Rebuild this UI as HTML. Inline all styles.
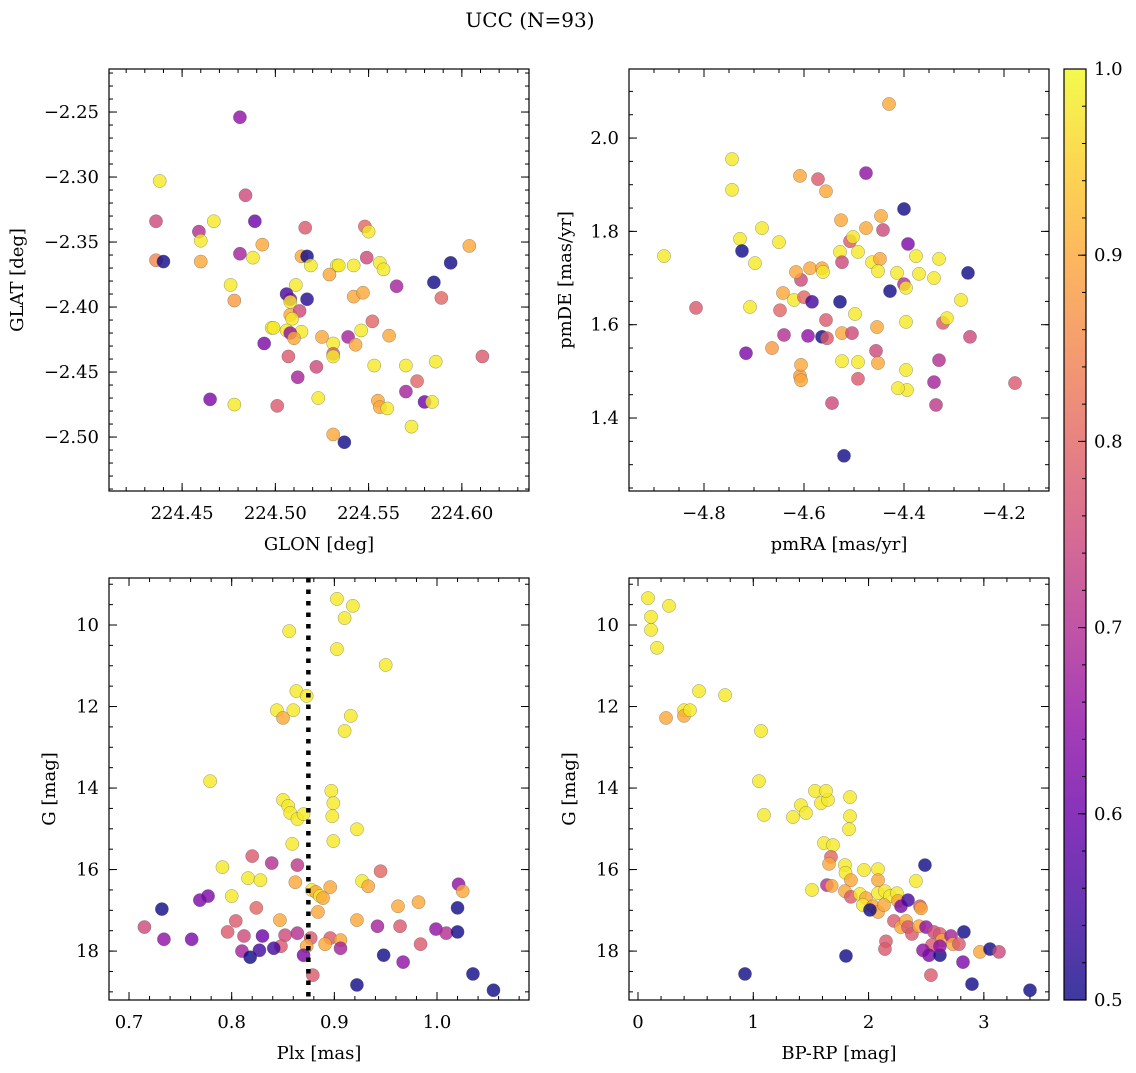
<!DOCTYPE html>
<html><head><meta charset="utf-8">
<style>
body{margin:0;background:#fff;}
svg text{font-family:"DejaVu Serif","Liberation Serif",serif;fill:#000;}
</style></head>
<body>
<svg id="fig" width="1136" height="1068" viewBox="0 0 1136 1068" xmlns="http://www.w3.org/2000/svg">
<defs>
<linearGradient id="cmap" x1="0" y1="1" x2="0" y2="0">
<stop offset="0" stop-color="#0d0887"/><stop offset="0.1" stop-color="#41049d"/><stop offset="0.2" stop-color="#6a00a8"/><stop offset="0.3" stop-color="#8f0da4"/><stop offset="0.4" stop-color="#b12a90"/><stop offset="0.5" stop-color="#cc4778"/><stop offset="0.6" stop-color="#e16462"/><stop offset="0.7" stop-color="#f2844b"/><stop offset="0.8" stop-color="#fca636"/><stop offset="0.9" stop-color="#fcce25"/><stop offset="1" stop-color="#f0f921"/>
</linearGradient>
</defs>
<text x="530" y="27" font-size="20" text-anchor="middle">UCC (N=93)</text>
</svg>
<script>
// Panel 1: GLON / GLAT
const glon=[224.481,224.438,224.484,224.436,224.467,224.489,224.459,224.460,224.493,224.436,224.440,224.460,224.481,224.488,224.516,224.514,224.517,224.519,224.533,224.534,224.548,224.550,224.549,224.542,224.556,224.558,224.529,224.565,224.585,224.594,224.604,224.476,224.478,224.511,224.506,224.508,224.517,224.508,224.508,224.513,224.542,224.547,224.589,224.498,224.499,224.506,224.514,224.508,224.525,224.531,224.539,224.546,224.552,224.561,224.543,224.494,224.510,224.507,224.512,224.522,224.531,224.531,224.553,224.570,224.586,224.611,224.576,224.570,224.555,224.556,224.560,224.580,224.584,224.573,224.465,224.478,224.501,224.523,224.531,224.537,224.509];
const glat=[-2.254,-2.303,-2.314,-2.334,-2.334,-2.334,-2.342,-2.349,-2.352,-2.364,-2.365,-2.365,-2.359,-2.362,-2.339,-2.361,-2.361,-2.368,-2.368,-2.368,-2.338,-2.342,-2.362,-2.368,-2.366,-2.371,-2.375,-2.384,-2.381,-2.366,-2.353,-2.383,-2.395,-2.383,-2.390,-2.394,-2.394,-2.396,-2.406,-2.403,-2.392,-2.389,-2.393,-2.416,-2.416,-2.418,-2.419,-2.420,-2.423,-2.428,-2.423,-2.418,-2.411,-2.422,-2.429,-2.428,-2.424,-2.438,-2.454,-2.446,-2.436,-2.438,-2.445,-2.445,-2.442,-2.438,-2.457,-2.465,-2.472,-2.477,-2.478,-2.473,-2.473,-2.492,-2.471,-2.475,-2.476,-2.470,-2.498,-2.504,-2.409];
const prob1=[0.65,0.98,0.75,0.75,0.98,0.6,0.7,0.98,0.9,0.85,0.5,0.9,0.68,0.98,0.78,0.9,0.5,0.98,0.98,0.98,0.8,0.98,0.75,0.98,0.98,0.98,0.9,0.68,0.5,0.5,0.9,0.98,0.88,0.98,0.55,0.62,0.52,0.98,0.9,0.75,0.9,0.9,0.8,0.98,0.98,0.98,0.98,0.65,0.9,0.98,0.68,0.98,0.8,0.9,0.9,0.62,0.9,0.78,0.68,0.75,0.78,0.98,0.98,0.98,0.98,0.78,0.8,0.68,0.9,0.9,0.98,0.6,0.98,0.98,0.62,0.98,0.78,0.98,0.9,0.5,0.98];
// Panel 2: pmRA / pmDE
const pmra=[-4.880,-4.816,-4.744,-4.744,-4.728,-4.724,-4.698,-4.708,-4.716,-4.684,-4.664,-4.650,-4.648,-4.640,-4.642,-4.620,-4.608,-4.606,-4.606,-4.606,-4.616,-4.588,-4.600,-4.592,-4.608,-4.572,-4.564,-4.562,-4.556,-4.584,-4.564,-4.556,-4.554,-4.544,-4.528,-4.526,-4.524,-4.524,-4.524,-4.528,-4.520,-4.508,-4.502,-4.504,-4.498,-4.492,-4.492,-4.492,-4.476,-4.476,-4.464,-4.456,-4.454,-4.452,-4.448,-4.446,-4.442,-4.452,-4.430,-4.428,-4.414,-4.400,-4.396,-4.396,-4.396,-4.394,-4.412,-4.400,-4.392,-4.376,-4.370,-4.340,-4.330,-4.322,-4.314,-4.330,-4.340,-4.336,-4.286,-4.272,-4.268,-4.178];
const pmde=[1.747,1.636,1.955,1.889,1.784,1.758,1.732,1.638,1.539,1.807,1.550,1.777,1.631,1.578,1.668,1.653,1.490,1.696,1.514,1.481,1.713,1.721,1.659,1.576,1.919,1.912,1.721,1.713,1.886,1.649,1.574,1.610,1.571,1.432,1.756,1.824,1.734,1.582,1.522,1.649,1.319,1.779,1.788,1.582,1.623,1.484,1.756,1.520,1.807,1.925,1.734,1.544,1.595,1.518,1.741,1.833,1.803,1.715,2.073,1.672,1.711,1.687,1.679,1.606,1.503,1.460,1.464,1.848,1.773,1.747,1.709,1.700,1.741,1.604,1.614,1.524,1.477,1.428,1.653,1.711,1.574,1.475];
const prob2=[0.98,0.78,0.98,0.98,0.98,0.5,0.98,0.98,0.62,0.98,0.88,0.98,0.8,0.7,0.9,0.98,0.88,0.75,0.9,0.9,0.9,0.9,0.8,0.65,0.9,0.78,0.9,0.98,0.9,0.55,0.5,0.78,0.78,0.75,0.98,0.9,0.75,0.9,0.98,0.5,0.5,0.78,0.98,0.75,0.98,0.78,0.98,0.98,0.9,0.65,0.98,0.75,0.9,0.9,0.9,0.9,0.75,0.98,0.9,0.5,0.98,0.7,0.98,0.98,0.98,0.98,0.98,0.5,0.62,0.98,0.98,0.98,0.98,0.78,0.98,0.7,0.68,0.72,0.98,0.5,0.75,0.78];
// Panel 3: Plx / G
const plx=[0.9025,0.918,0.910,0.856,0.9025,0.950,0.863,0.873,0.844,0.860,0.850,0.916,0.910,0.779,0.897,0.850,0.855,0.899,0.857,0.864,0.870,0.898,0.922,0.899,0.859,0.820,0.839,0.864,0.791,0.945,0.816,0.828,0.862,0.927,1.021,1.025,0.878,0.896,0.882,0.800,0.933,0.777,0.769,0.886,0.889,0.884,0.962,0.982,0.824,0.732,1.020,0.804,0.847,0.922,0.942,0.964,0.999,1.009,1.020,0.796,0.812,0.830,0.852,0.864,0.877,0.896,0.906,0.891,0.873,0.848,0.715,0.734,0.761,0.810,0.818,0.827,0.841,0.870,0.906,0.948,0.967,0.984,0.879,0.922,1.035,1.055];
const gmag3=[9.36,9.53,9.83,10.15,10.59,10.98,11.62,11.74,12.09,12.09,12.28,12.23,12.60,13.83,14.07,14.29,14.44,14.37,14.61,14.76,14.64,14.69,15.01,15.30,15.37,15.67,15.84,15.89,15.94,16.04,16.21,16.26,16.31,16.28,16.36,16.53,16.50,16.43,16.55,16.65,16.41,16.65,16.75,16.65,16.70,17.04,16.90,16.80,16.94,16.97,16.94,17.26,17.24,17.24,17.39,17.39,17.46,17.56,17.53,17.53,17.63,17.63,17.61,17.56,17.68,17.68,17.73,17.83,17.88,17.88,17.41,17.71,17.71,18.00,18.15,17.98,17.93,18.10,17.93,18.10,18.27,17.83,18.59,18.83,18.56,18.96];
const prob3=[0.98,0.98,0.98,0.98,0.98,0.98,0.98,0.98,0.98,0.98,0.9,0.98,0.98,0.98,0.98,0.98,0.98,0.98,0.98,0.98,0.98,0.98,0.98,0.98,0.98,0.78,0.7,0.72,0.98,0.8,0.98,0.98,0.9,0.98,0.65,0.9,0.98,0.9,0.9,0.98,0.9,0.62,0.62,0.98,0.9,0.9,0.9,0.9,0.8,0.5,0.5,0.78,0.9,0.9,0.68,0.78,0.65,0.7,0.5,0.78,0.75,0.6,0.75,0.7,0.78,0.78,0.9,0.9,0.9,0.78,0.75,0.65,0.62,0.68,0.5,0.55,0.55,0.62,0.68,0.5,0.65,0.78,0.78,0.5,0.5,0.5];
// Panel 4: BP-RP / G
const bprp=[0.087,0.113,0.113,0.165,0.269,0.243,0.399,0.399,0.451,0.529,0.755,1.067,1.049,1.093,1.344,1.413,1.457,1.535,1.587,1.648,1.631,1.839,1.839,1.830,1.613,1.691,1.674,1.657,2.082,1.795,1.960,1.800,1.847,2.082,1.639,1.509,1.680,1.795,1.847,1.925,1.977,2.082,2.142,2.186,2.246,2.411,1.951,2.038,2.082,2.134,2.255,2.281,2.342,2.446,2.455,2.489,2.012,2.220,2.281,2.325,2.342,2.376,2.437,2.498,2.567,2.619,2.637,2.715,2.732,2.550,2.827,2.784,2.151,2.142,2.472,2.524,2.619,2.619,2.819,2.966,3.053,3.131,2.541,1.804,0.928,2.897,3.400];
const gmag4=[9.34,9.80,10.12,10.56,9.53,12.28,12.09,12.23,12.09,11.62,11.72,12.60,13.83,14.66,14.71,14.42,14.61,14.07,14.37,14.29,14.07,14.22,14.69,15.01,15.35,15.40,15.69,15.86,15.99,15.89,16.01,16.08,16.26,16.26,16.38,16.50,16.40,16.53,16.67,16.60,16.70,16.58,16.53,16.65,16.58,16.28,16.87,16.90,17.04,16.87,16.77,16.90,16.75,16.90,16.95,15.89,16.99,17.26,17.41,17.26,17.41,17.58,17.39,17.41,17.53,17.58,17.73,17.63,17.83,17.85,17.53,17.83,17.76,17.95,17.98,18.10,18.10,17.88,18.27,18.02,17.95,18.02,18.59,18.12,18.56,18.81,18.96];
const prob4=[0.98,0.98,0.98,0.98,0.98,0.9,0.98,0.9,0.98,0.98,0.98,0.98,0.98,0.98,0.98,0.98,0.98,0.98,0.98,0.98,0.98,0.98,0.98,0.98,0.98,0.98,0.8,0.9,0.98,0.98,0.98,0.98,0.9,0.9,0.7,0.98,0.9,0.9,0.78,0.98,0.9,0.98,0.98,0.98,0.98,0.98,0.98,0.9,0.9,0.9,0.9,0.62,0.55,0.78,0.9,0.5,0.5,0.78,0.9,0.9,0.78,0.78,0.9,0.65,0.75,0.78,0.9,0.68,0.9,0.78,0.5,0.78,0.78,0.78,0.65,0.62,0.5,0.65,0.62,0.9,0.5,0.75,0.78,0.5,0.5,0.5,0.5];
const plxLine=0.8747;
const cbTicks=[0.5,0.6,0.7,0.8,0.9,1.0];

const NS='http://www.w3.org/2000/svg';
const svg=document.getElementById('fig');
const pl=['#0d0887','#41049d','#6a00a8','#8f0da4','#b12a90','#cc4778','#e16462','#f2844b','#fca636','#fcce25','#f0f921'];
function hex(h){return [1,3,5].map(i=>parseInt(h.substr(i,2),16));}
function cmap(p){let t=Math.max(0,Math.min(1,(p-0.5)/0.5))*10;let i=Math.min(9,Math.floor(t)),f=t-i;
 const a=hex(pl[i]),b=hex(pl[i+1]);return 'rgb('+a.map((v,k)=>Math.round(v+(b[k]-v)*f)).join(',')+')';}
function el(tag,attrs,parent){const e=document.createElementNS(NS,tag);for(const k in attrs)e.setAttribute(k,attrs[k]);(parent||svg).appendChild(e);return e;}
function fmt(v,d){let s=v.toFixed(d);return s.replace('-','\u2212');}

function panel(o){
 const g=el('g',{});
 
 
 const X=v=>o.L+(v-o.x0)/(o.x1-o.x0)*(o.R-o.L);
 const Y=v=>o.invert? o.T+(v-o.y0)/(o.y1-o.y0)*(o.B-o.T) : o.B-(v-o.y0)/(o.y1-o.y0)*(o.B-o.T);
 for(let i=0;i<o.xs.length;i++){
  const c=el('circle',{cx:X(o.xs[i]),cy:Y(o.ys[i]),r:6.6,fill:cmap(o.ps[i]),'fill-opacity':0.8,stroke:'#555','stroke-width':0.5,'stroke-opacity':0.6},g);
  
  
 }
 if(o.vline!==undefined){
  const l=el('line',{x1:X(o.vline),x2:X(o.vline),y1:o.T,y2:o.B,stroke:'#000','stroke-width':4.5,'stroke-dasharray':'4.5 7'},g);
  
  
 }
 const fr=el('rect',{x:o.L,y:o.T,width:o.R-o.L,height:o.B-o.T,fill:'none',stroke:'#000','stroke-width':1.2},g);
 
 
 const eps=1e-9;
 function ticksX(step,len,lab){const s=Math.ceil(o.x0/step-eps);for(let k=s;k*step<=o.x1+eps;k++){const v=k*step,x=X(v);
  el('line',{x1:x,x2:x,y1:o.B,y2:o.B-len,stroke:'#000','stroke-width':1},g);el('line',{x1:x,x2:x,y1:o.T,y2:o.T+len,stroke:'#000','stroke-width':1},g);
  if(lab){const t=el('text',{x:x,y:o.B+28,'font-size':18,'text-anchor':'middle'},g);t.textContent=fmt(v,o.xd);}}}
 function ticksY(step,len,lab){const lo=Math.min(o.y0,o.y1),hi=Math.max(o.y0,o.y1);const s=Math.ceil(lo/step-eps);for(let k=s;k*step<=hi+eps;k++){const v=k*step,y=Y(v);
  el('line',{x1:o.L,x2:o.L+len,y1:y,y2:y,stroke:'#000','stroke-width':1},g);el('line',{x1:o.R,x2:o.R-len,y1:y,y2:y,stroke:'#000','stroke-width':1},g);
  if(lab){const t=el('text',{x:o.L-10,y:y+6,'font-size':18,'text-anchor':'end'},g);t.textContent=fmt(v,o.yd);}}}
 ticksX(o.xmin,4,false);ticksX(o.xmaj,8,true);ticksY(o.ymin,4,false);ticksY(o.ymaj,8,true);
 const xl=el('text',{x:(o.L+o.R)/2,y:o.B+59,'font-size':18,'text-anchor':'middle'},g);xl.textContent=o.xlab;
 
 const yx=o.L-o.yoff,yy=(o.T+o.B)/2;
 const yl=el('text',{x:yx,y:yy,'font-size':18,'text-anchor':'middle',transform:`rotate(-90 ${yx} ${yy})`},g);yl.textContent=o.ylab;
 
}
panel({name:'glon-glat-panel',L:109,R:529,T:69,B:491,x0:224.4108,x1:224.636,y0:-2.5415,y1:-2.2169,xs:glon,ys:glat,ps:prob1,xmaj:0.05,xmin:0.01,ymaj:0.05,ymin:0.01,xd:2,yd:2,xlab:'GLON [deg]',ylab:'GLAT [deg]',yoff:86});
panel({name:'pm-panel',L:629,R:1049,T:69,B:491,x0:-4.95,x1:-4.11,y0:1.2436,y1:2.148,xs:pmra,ys:pmde,ps:prob2,xmaj:0.2,xmin:0.05,ymaj:0.2,ymin:0.05,xd:1,yd:1,xlab:'pmRA [mas/yr]',ylab:'pmDE [mas/yr]',yoff:58});
panel({name:'plx-g-panel',L:109,R:529,T:578,B:1000,x0:0.6805,x1:1.0896,y0:8.847,y1:19.2,invert:true,xs:plx,ys:gmag3,ps:prob3,xmaj:0.1,xmin:0.02,ymaj:2,ymin:0.5,xd:1,yd:0,xlab:'Plx [mas]',ylab:'G [mag]',yoff:54,vline:plxLine});
panel({name:'cmd-panel',L:629,R:1049,T:578,B:1000,x0:-0.078,x1:3.565,y0:8.847,y1:19.2,invert:true,xs:bprp,ys:gmag4,ps:prob4,xmaj:1,xmin:0.2,ymaj:2,ymin:0.5,xd:0,yd:0,xlab:'BP-RP [mag]',ylab:'G [mag]',yoff:54});
const cb=el('g',{});


el('rect',{x:1064,y:69,width:22,height:931,fill:'url(#cmap)','fill-opacity':0.8},cb);
el('rect',{x:1064,y:69,width:22,height:931,fill:'none',stroke:'#000','stroke-width':1.2},cb);
const CY=v=>1000-(v-0.5)/0.5*931;
for(let v=0.5;v<=1.0001;v+=0.02){el('line',{x1:1086,x2:1082,y1:CY(v),y2:CY(v),stroke:'#000','stroke-width':1},cb);}
cbTicks.forEach(v=>{el('line',{x1:1086,x2:1078,y1:CY(v),y2:CY(v),stroke:'#000','stroke-width':1},cb);
 const t=el('text',{x:1094,y:CY(v)+6,'font-size':18},cb);t.textContent=v.toFixed(1);
 
 });
</script>
</body></html>
